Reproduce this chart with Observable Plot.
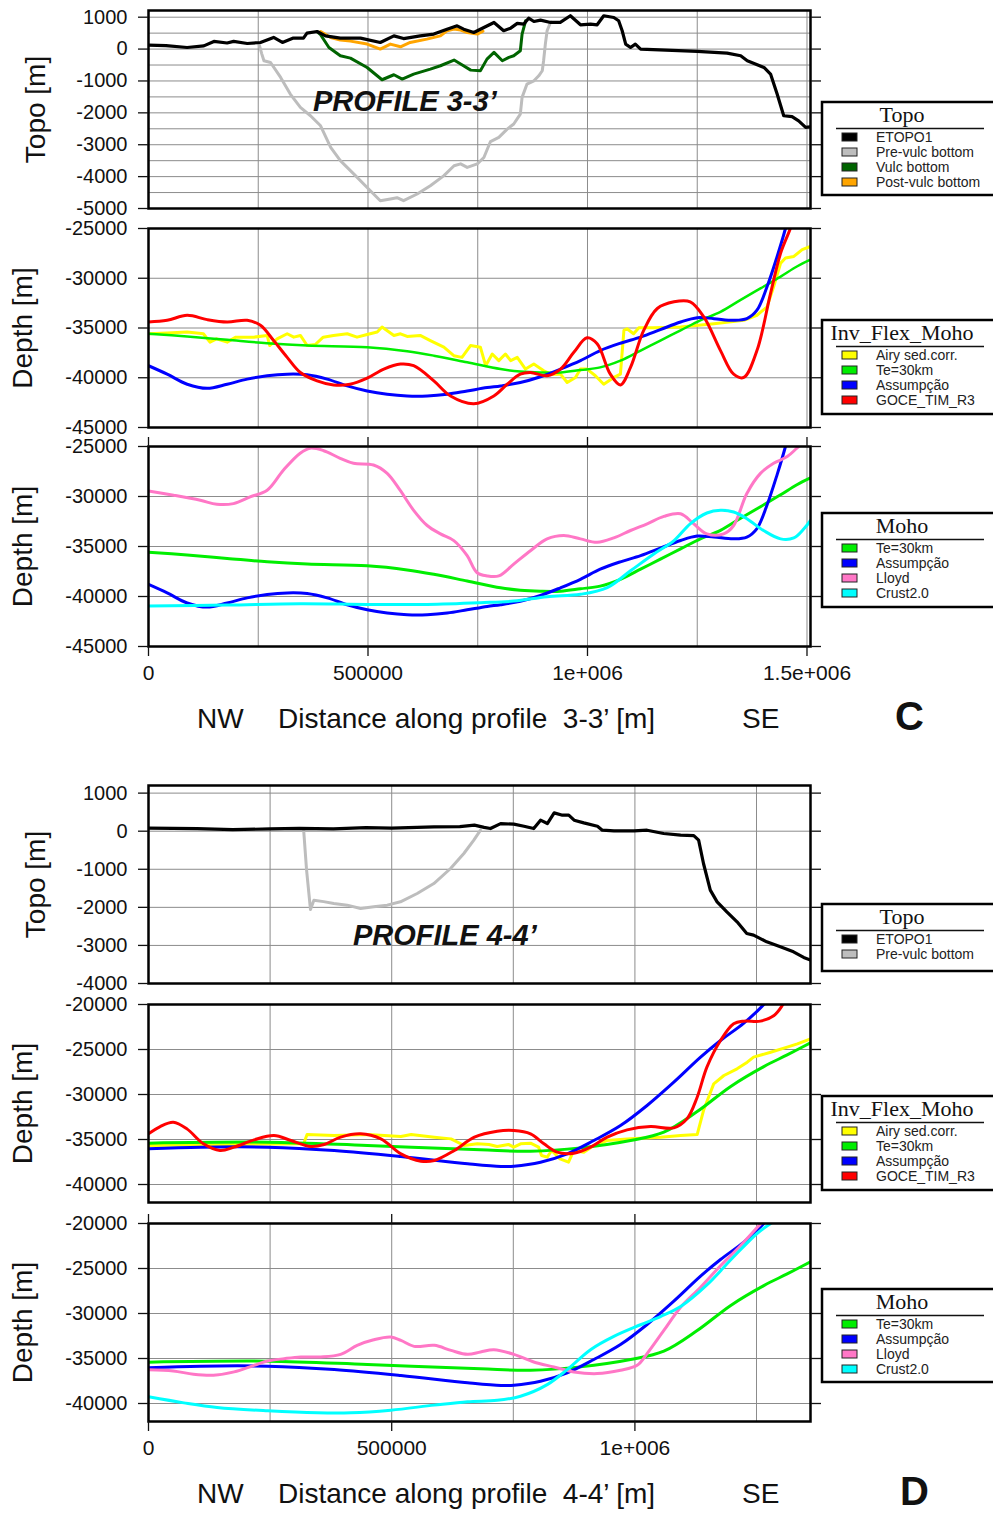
<!DOCTYPE html>
<html><head><meta charset="utf-8">
<script src="https://cdn.jsdelivr.net/npm/d3@7"></script>
<script src="https://cdn.jsdelivr.net/npm/@observablehq/plot@0.6"></script>
<style>
body{margin:0;background:#fff;}
#fig{position:relative;width:993px;height:1514px;overflow:hidden;background:#fff;}
#fig > svg{position:absolute;left:0;}
</style></head><body><div id="fig"></div>
<script>
// ---------------- DATA (distance along profile [m], value [m]) ----------------
// Profile 3-3'
const p3Etopo = [[0,125],[40000,110],[88000,50],[126000,100],[149000,240],[179000,190],[194000,240],[225000,175],[255000,207],[285000,365],[305000,207],[330000,345],[353000,345],[361000,500],[384000,550],[403000,415],[437000,345],[483000,345],[528000,207],[559000,415],[581000,330],[619000,415],[650000,470],[680000,625],[703000,730],[718000,625],[741000,520],[764000,677],[787000,835],[809000,575],[825000,657],[840000,805],[855000,783],[866000,970],[878000,865],[893000,908],[916000,835],[938000,835],[961000,1045],[984000,762],[1007000,783],[1022000,762],[1037000,1045],[1060000,990],[1071000,887],[1079000,575],[1087000,157],[1098000,50],[1109000,157],[1121000,0],[1250000,-75],[1318000,-125],[1349000,-210],[1364000,-367],[1402000,-577],[1417000,-785],[1432000,-1410],[1447000,-2090],[1466000,-2120],[1481000,-2250],[1497000,-2455],[1508000,-2440]];
const p3PreVulc = [[252000,150],[258000,-150],[263000,-367],[278000,-420],[301000,-890],[323000,-1410],[346000,-1830],[369000,-2090],[392000,-2405],[415000,-3085],[437000,-3500],[468000,-3920],[498000,-4340],[528000,-4755],[551000,-4700],[566000,-4660],[581000,-4755],[612000,-4545],[642000,-4285],[673000,-3970],[696000,-3660],[711000,-3600],[726000,-3710],[749000,-3600],[764000,-3400],[779000,-2900],[798000,-2770],[817000,-2510],[832000,-2350],[847000,-2040],[851000,-1515],[862000,-1100],[878000,-995],[889000,-837],[897000,-680],[900000,-367],[904000,157],[908000,575],[916000,850]];
const p3Vulc = [[384000,550],[392000,450],[411000,50],[437000,-210],[460000,-283],[498000,-577],[532000,-962],[559000,-805],[578000,-940],[604000,-785],[642000,-627],[665000,-523],[696000,-345],[711000,-470],[734000,-660],[756000,-680],[771000,-315],[787000,-105],[806000,-367],[821000,-262],[832000,-210],[847000,-53],[851000,470],[859000,887]];
const p3PostVulc = [[392000,550],[415000,365],[437000,282],[460000,250],[498000,157],[528000,0],[551000,157],[574000,72],[596000,207],[634000,313],[665000,415],[680000,575],[696000,627],[711000,597],[726000,520],[749000,470],[762000,560]];

const p3Airy = [[0,-35580],[42500,-35510],[88100,-35410],[125000,-35580],[140000,-36420],[155000,-36090],[179200,-36420],[199000,-35920],[240000,-35920],[270300,-35750],[276000,-36760],[293000,-36090],[315900,-35580],[331000,-35920],[346000,-35750],[361400,-36760],[380000,-36660],[398000,-35920],[421500,-35750],[452600,-35580],[475000,-35920],[498100,-35650],[521000,-35410],[532000,-34900],[559000,-35750],[574000,-35580],[589200,-35850],[619000,-35750],[642000,-36260],[672800,-36930],[695500,-37780],[714000,-37950],[733500,-36760],[756000,-36930],[768000,-38790],[783000,-37610],[798000,-38280],[813000,-37610],[825000,-38280],[840000,-37950],[858800,-39130],[877700,-38620],[900400,-39300],[915800,-39640],[938500,-39640],[953700,-40480],[972700,-39970],[984000,-39130],[999000,-39130],[1018000,-39800],[1037000,-40650],[1060000,-39970],[1075000,-39640],[1083000,-35240],[1090000,-35070],[1105000,-35580],[1117000,-34970],[1151000,-34970],[1212000,-34900],[1288000,-34570],[1356000,-34230],[1386000,-33720],[1409000,-32880],[1424000,-30850],[1440000,-28480],[1451000,-27970],[1470000,-27810],[1489000,-27130],[1508000,-26790]];
const p3Te30 = [[0,-35580],[88100,-35850],[179200,-36190],[270300,-36530],[361400,-36760],[498100,-36930],[589200,-37340],[650000,-37780],[725900,-38450],[802000,-39130],[847000,-39370],[893000,-39470],[938500,-39470],[984000,-39230],[1029000,-38960],[1075000,-38280],[1121000,-37270],[1166000,-36260],[1212000,-35240],[1257000,-34230],[1303000,-33380],[1348000,-32200],[1394000,-31020],[1440000,-29830],[1477000,-28820],[1508000,-28140]];
const p3Assump = [[0,-38790],[42500,-39640],[88100,-40650],[133600,-41060],[179200,-40650],[224800,-40140],[270300,-39800],[315900,-39640],[361400,-39700],[407000,-40140],[452600,-40820],[498100,-41330],[543700,-41660],[589200,-41830],[634800,-41830],[680400,-41660],[725900,-41330],[771500,-40990],[802000,-40820],[847000,-40480],[893000,-39900],[938500,-39130],[984000,-38280],[1029000,-37270],[1075000,-36530],[1121000,-35920],[1166000,-35170],[1212000,-34400],[1250000,-33960],[1288000,-34060],[1333000,-34230],[1363000,-34060],[1386000,-33210],[1409000,-30850],[1432000,-27810],[1451000,-25000],[1458000,-23750]];
const p3Goce = [[0,-34400],[42500,-34230],[88100,-33720],[133600,-34160],[179200,-34400],[224800,-34230],[255000,-34730],[285000,-36260],[315900,-37950],[346000,-39470],[384000,-40310],[421500,-40720],[459000,-40650],[498100,-40040],[536000,-39130],[574000,-38620],[604000,-38790],[650000,-40310],[688000,-41830],[741000,-42610],[786600,-41830],[817000,-40650],[847000,-39640],[870000,-39470],[908000,-39800],[938500,-39130],[968900,-37440],[999000,-35990],[1022000,-36590],[1052000,-39640],[1075000,-40720],[1098000,-38960],[1128000,-35240],[1159000,-33040],[1197000,-32370],[1234000,-32370],[1265000,-33890],[1303000,-37270],[1333000,-39640],[1356000,-39970],[1386000,-37270],[1417000,-31520],[1440000,-27470],[1462000,-25000],[1470000,-23750]];
const p3Lloyd = [[0,-29440],[57000,-29870],[118000,-30380],[155700,-30780],[193600,-30710],[231500,-30040],[270300,-29370],[307600,-27350],[345500,-25670],[368000,-25170],[398000,-25400],[436600,-26180],[467000,-26680],[512500,-26850],[543700,-27690],[573000,-29370],[604000,-31380],[634800,-32900],[665000,-33740],[695500,-34410],[725900,-35920],[748000,-37600],[771500,-37940],[798000,-37940],[832000,-36760],[870000,-35420],[908000,-34240],[946000,-33900],[984000,-34240],[1022000,-34580],[1060000,-34140],[1098000,-33400],[1136000,-32730],[1174000,-31990],[1212000,-31720],[1242000,-32730],[1272000,-33740],[1310000,-33740],[1333000,-32900],[1363000,-29700],[1394000,-27690],[1424000,-26680],[1455000,-26010],[1477000,-25170],[1490000,-24700]];
const p3Crust = [[0,-40960],[179200,-40860],[345500,-40720],[498100,-40790],[634800,-40790],[756300,-40620],[832000,-40460],[908000,-40020],[984000,-39780],[1045000,-39110],[1098000,-37430],[1151000,-35750],[1197000,-34410],[1234000,-32730],[1272000,-31650],[1303000,-31380],[1333000,-31550],[1363000,-32220],[1401000,-33400],[1440000,-34240],[1470000,-34140],[1493000,-33230],[1508000,-32390]];

// Profile 4-4'
const p4Etopo = [[0,80],[100000,70],[173000,40],[250000,60],[310000,75],[380000,60],[447000,95],[500000,80],[587000,115],[640000,120],[670000,160],[690000,100],[703000,70],[724000,200],[751000,184],[772000,131],[792000,70],[806000,289],[820000,201],[834000,481],[851000,420],[864000,420],[875000,289],[895000,219],[923000,131],[933000,26],[957000,9],[998000,9],[1025000,26],[1059000,-61],[1094000,-105],[1121000,-114],[1131000,-236],[1141000,-849],[1155000,-1549],[1169000,-1855],[1189000,-2118],[1210000,-2380],[1230000,-2686],[1244000,-2730],[1271000,-2905],[1299000,-3036],[1326000,-3168],[1347000,-3316],[1361000,-3386]];
const p4PreVulc = [[319000,26],[325000,-1024],[333000,-2056],[340000,-1811],[360000,-1850],[381000,-1899],[408500,-1942],[436000,-2030],[463000,-1986],[490700,-1942],[518000,-1855],[552400,-1636],[586600,-1374],[621000,-980],[648300,-586],[668800,-236],[682600,26]];

const p4Airy = [[0,-35670],[176000,-35560],[319000,-35480],[326000,-34450],[381800,-34560],[450300,-34450],[518900,-34670],[540000,-34450],[587600,-34740],[621900,-34930],[649000,-35670],[676000,-35480],[700000,-35560],[716900,-35780],[740000,-35550],[751100,-35850],[765000,-35480],[785400,-35410],[802000,-35850],[808000,-36780],[819700,-36960],[829000,-36220],[846000,-37150],[863500,-37520],[874500,-36220],[895000,-36410],[915600,-35670],[943000,-35110],[991000,-34930],[1052600,-34740],[1094000,-34560],[1128000,-34450],[1141000,-31780],[1162000,-28820],[1183000,-27890],[1210000,-27150],[1231000,-26410],[1244000,-25850],[1279000,-25300],[1313000,-24740],[1334000,-24370],[1361000,-23820]];
const p4Te30 = [[0,-35410],[245000,-35300],[450000,-35670],[682600,-36150],[785400,-36300],[888200,-35930],[991000,-35110],[1059500,-34190],[1128000,-31900],[1197000,-29100],[1265000,-26900],[1313000,-25600],[1361000,-24250]];
const p4Assump = [[0,-36040],[107000,-35850],[245000,-35850],[381800,-36220],[518900,-36890],[656000,-37700],[724700,-38000],[751100,-37960],[806000,-37520],[860800,-36590],[915600,-35110],[970400,-33450],[1025000,-31220],[1080000,-28630],[1135000,-25850],[1176000,-24000],[1224000,-22070],[1265000,-20000],[1272000,-19550]];
const p4Goce = [[0,-34370],[24000,-33560],[51000,-33080],[79000,-33820],[113000,-35480],[147000,-36220],[176000,-35850],[217000,-35040],[258000,-34560],[293000,-35110],[334000,-35780],[361000,-35560],[395000,-34740],[436000,-34370],[477700,-34930],[519000,-36590],[560000,-37410],[587600,-37330],[628700,-36220],[670000,-34740],[716900,-34080],[751100,-34000],[785400,-34370],[813000,-35480],[840000,-36410],[874500,-36520],[908800,-35850],[943000,-34740],[984000,-33930],[1032000,-33560],[1080000,-33710],[1107000,-32710],[1128000,-30300],[1148000,-26960],[1176000,-24000],[1203000,-22150],[1224000,-21850],[1258000,-21850],[1286000,-21220],[1303000,-20110],[1309000,-19550]];
const p4Lloyd = [[0,-36240],[51000,-36380],[92500,-36750],[133600,-36860],[176000,-36490],[217000,-35760],[245000,-35280],[279000,-35020],[313000,-34830],[354000,-34830],[395000,-34540],[429000,-33540],[463000,-32920],[498000,-32620],[518900,-32990],[546000,-33650],[587600,-33540],[621900,-34100],[656000,-34540],[682600,-34280],[710000,-34020],[751100,-34540],[792000,-35390],[833500,-35940],[874500,-36490],[922500,-36680],[970400,-36310],[1004600,-35760],[1025000,-34460],[1059500,-31880],[1094000,-29300],[1135000,-27080],[1176000,-24690],[1217000,-22470],[1258000,-20070],[1265000,-19700]];
const p4Crust = [[0,-39260],[72700,-39930],[141000,-40440],[245000,-40810],[347500,-41030],[416000,-41030],[498000,-40740],[587600,-40180],[656000,-39800],[716900,-39650],[764800,-39190],[819700,-37900],[860800,-36230],[908800,-34020],[956700,-32540],[1011600,-31250],[1052600,-30340],[1094000,-29230],[1148000,-26830],[1203000,-23700],[1251000,-21110],[1279000,-20000],[1290000,-19600]];

// Ticks and labels
const p3XTicks = [0, 500000, 1000000, 1500000];
const p3XTickLabels = ["0", "500000", "1e+006", "1.5e+006"];
const p3XGrid = [250000, 500000, 750000, 1000000, 1250000, 1500000];
const p4XTicks = [0, 500000, 1000000];
const p4XTickLabels = ["0", "500000", "1e+006"];
const p4XGrid = [250000, 500000, 750000, 1000000, 1250000];
const p3TopoTicks = [1000, 0, -1000, -2000, -3000, -4000, -5000];
const p3TopoGrid = [1000, 500, 0, -500, -1000, -1500, -2000, -2500, -3000, -3500, -4000, -4500];
const p3DepthTicks = [-25000, -30000, -35000, -40000, -45000];
const p4TopoTicks = [1000, 0, -1000, -2000, -3000, -4000];
const p4DepthTicks = [-20000, -25000, -30000, -35000, -40000];

const topoLegend3 = ["ETOPO1", "Pre-vulc bottom", "Vulc bottom", "Post-vulc bottom"];
const topoLegend4 = ["ETOPO1", "Pre-vulc bottom"];
const invLegend = ["Airy sed.corr.", "Te=30km", "Assumpção", "GOCE_TIM_R3"];
const mohoLegend = ["Te=30km", "Assumpção", "Lloyd", "Crust2.0"];
const xTitle3 = "Distance along profile  3-3’ [m]";
const xTitle4 = "Distance along profile  4-4’ [m]";

// ---------------- STYLE ----------------
const FONT = "'Liberation Sans', Arial, Helvetica, sans-serif";
const SERIF = "'Liberation Serif', 'Times New Roman', serif";
const C = {
  "ETOPO1": "#000000", "Pre-vulc bottom": "#bdbdbd", "Vulc bottom": "#006400", "Post-vulc bottom": "#ffa500",
  "Airy sed.corr.": "#ffff00", "Te=30km": "#00ee00", "Assumpção": "#0000ff", "GOCE_TIM_R3": "#ff0000",
  "Lloyd": "#ff77c6", "Crust2.0": "#00ffff"
};
const fig = document.getElementById("fig");

function panel(o) {
  const mt = 30, mb = o.bottomAxis ? 70 : 30;
  const marks = [
    Plot.ruleY(o.yGrid, {stroke: "#8c8c8c", strokeWidth: 1}),
    Plot.ruleX(o.xGrid, {stroke: "#8c8c8c", strokeWidth: 1}),
    ...o.series.map(s => Plot.line(s.data, {x: d => d[0], y: d => d[1], stroke: C[s.name], strokeWidth: s.w || 3, curve: s.curve || "linear", clip: true})),
    Plot.frame({stroke: "#000", strokeWidth: 2.5}),
    Plot.axisY(o.yTicks, {anchor: "left", tickSize: 10, tickPadding: 11, tickFormat: d => String(d), fontSize: o.tickFont, fontFamily: FONT, strokeWidth: 1.3, label: null}),
    Plot.axisY(o.yTicks, {anchor: "right", tickSize: 10, tickFormat: () => "", strokeWidth: 1.3, label: null}),
    Plot.text([o.yTitle], {text: d => d, frameAnchor: "left", textAnchor: "middle", lineAnchor: "middle", dx: o.yTitleDx, rotate: -90, fontSize: 28, fontFamily: FONT, fill: "#111"})
  ];
  if (o.bottomAxis) {
    marks.push(Plot.axisX(o.xTicks, {anchor: "top", tickSize: 10, tickFormat: () => "", strokeWidth: 1.3, label: null}));
    marks.push(Plot.axisX(o.xTicks, {anchor: "bottom", tickSize: 10, tickPadding: 9, tickFormat: d => o.xLabels[o.xTicks.indexOf(d)], fontSize: 21, fontFamily: FONT, strokeWidth: 1.3, label: null}));
  }
  const chart = Plot.plot({
    width: 993,
    height: (o.bottom - o.top) + mt + mb,
    marginLeft: 148, marginRight: 183, marginTop: mt, marginBottom: mb,
    x: {domain: [0, o.xMax], label: null, ...(o.bottomAxis ? {} : {axis: null})},
    y: {domain: o.yDomain, label: null},
    style: {background: "transparent", overflow: "visible", color: "#111", fontFamily: FONT},
    marks
  });
  chart.style.position = "absolute";
  chart.style.left = "0px";
  chart.style.top = (o.top - mt) + "px";
  fig.appendChild(chart);
}

const S = (name, data, curve, w) => ({name, data, curve, w});
const smooth = "catmull-rom";

// Profile 3-3'
panel({top: 10, bottom: 208, xMax: 1508000, yDomain: [-5000, 1210], yTicks: p3TopoTicks, yGrid: p3TopoGrid, xGrid: p3XGrid,
  tickFont: 20, yTitle: "Topo [m]", yTitleDx: -112,
  series: [S("Pre-vulc bottom", p3PreVulc), S("Vulc bottom", p3Vulc), S("Post-vulc bottom", p3PostVulc), S("ETOPO1", p3Etopo, "linear", 3.2)]});
panel({top: 228, bottom: 427, xMax: 1508000, yDomain: [-45000, -25000], yTicks: p3DepthTicks, yGrid: p3DepthTicks, xGrid: p3XGrid,
  tickFont: 20, yTitle: "Depth [m]", yTitleDx: -125,
  series: [S("Airy sed.corr.", p3Airy), S("Te=30km", p3Te30, smooth, 2.5), S("Assumpção", p3Assump, smooth), S("GOCE_TIM_R3", p3Goce, smooth)]});
panel({top: 446, bottom: 646, xMax: 1508000, yDomain: [-45000, -25000], yTicks: p3DepthTicks, yGrid: p3DepthTicks, xGrid: p3XGrid,
  tickFont: 20, yTitle: "Depth [m]", yTitleDx: -125, bottomAxis: true, xTicks: p3XTicks, xLabels: p3XTickLabels,
  series: [S("Te=30km", p3Te30, smooth), S("Assumpção", p3Assump, smooth), S("Lloyd", p3Lloyd, smooth), S("Crust2.0", p3Crust, smooth)]});

// Profile 4-4'
panel({top: 785, bottom: 983, xMax: 1361000, yDomain: [-4000, 1200], yTicks: p4TopoTicks, yGrid: p4TopoTicks, xGrid: p4XGrid,
  tickFont: 20, yTitle: "Topo [m]", yTitleDx: -112,
  series: [S("Pre-vulc bottom", p4PreVulc), S("ETOPO1", p4Etopo, "linear", 3.2)]});
panel({top: 1004, bottom: 1202, xMax: 1361000, yDomain: [-42000, -20000], yTicks: p4DepthTicks, yGrid: p4DepthTicks, xGrid: p4XGrid,
  tickFont: 20, yTitle: "Depth [m]", yTitleDx: -125,
  series: [S("Airy sed.corr.", p4Airy), S("Te=30km", p4Te30, smooth), S("Assumpção", p4Assump, smooth), S("GOCE_TIM_R3", p4Goce, smooth)]});
panel({top: 1223, bottom: 1421, xMax: 1361000, yDomain: [-42000, -20000], yTicks: p4DepthTicks, yGrid: p4DepthTicks, xGrid: p4XGrid,
  tickFont: 20, yTitle: "Depth [m]", yTitleDx: -125, bottomAxis: true, xTicks: p4XTicks, xLabels: p4XTickLabels,
  series: [S("Te=30km", p4Te30, smooth), S("Assumpção", p4Assump, smooth), S("Lloyd", p4Lloyd, smooth), S("Crust2.0", p4Crust, smooth)]});

// ---------------- Overlay: legends and annotations ----------------
const ov = d3.select(fig).append("svg").attr("width", 993).attr("height", 1514)
  .style("position", "absolute").style("top", "0px").style("left", "0px");

function legend(top, height, title, labels) {
  const g = ov.append("g").attr("transform", `translate(822,${top})`);
  g.append("rect").attr("width", 190).attr("height", height).attr("fill", "#fff").attr("stroke", "#000").attr("stroke-width", 2.5);
  g.append("text").attr("x", 80).attr("y", 20).attr("text-anchor", "middle").attr("font-family", SERIF).attr("font-size", 22).attr("fill", "#111").text(title);
  g.append("line").attr("x1", 14).attr("x2", 162).attr("y1", 26.5).attr("y2", 26.5).attr("stroke", "#111").attr("stroke-width", 1.6);
  labels.forEach((lab, i) => {
    const cy = 35 + 15 * i;
    g.append("rect").attr("x", 20).attr("y", cy - 4).attr("width", 15).attr("height", 8).attr("fill", C[lab]).attr("stroke", "#222").attr("stroke-width", 1);
    g.append("text").attr("x", 54).attr("y", cy + 5).attr("font-family", FONT).attr("font-size", 14).attr("fill", "#222").text(lab);
  });
}
legend(102, 93, "Topo", topoLegend3);
legend(320, 94, "Inv_Flex_Moho", invLegend);
legend(513, 94, "Moho", mohoLegend);
legend(904, 67, "Topo", topoLegend4);
legend(1096, 94, "Inv_Flex_Moho", invLegend);
legend(1289, 93, "Moho", mohoLegend);

function txt(x, y, s, size, weight, style, anchor) {
  ov.append("text").attr("x", x).attr("y", y).attr("font-family", FONT).attr("font-size", size)
    .attr("font-weight", weight || "normal").attr("font-style", style || "normal")
    .attr("text-anchor", anchor || "start").attr("fill", "#111").style("white-space", "pre").text(s);
}
txt(313, 110.5, "PROFILE 3-3’", 29, "bold", "italic");
txt(353, 945, "PROFILE 4-4’", 29, "bold", "italic");
txt(197, 728, "NW", 28); txt(278, 728, xTitle3, 28); txt(742, 728, "SE", 28); txt(895, 730, "C", 40, "bold");
txt(197, 1503, "NW", 28); txt(278, 1503, xTitle4, 28); txt(742, 1503, "SE", 28); txt(900, 1505, "D", 40, "bold");
</script></body></html>
